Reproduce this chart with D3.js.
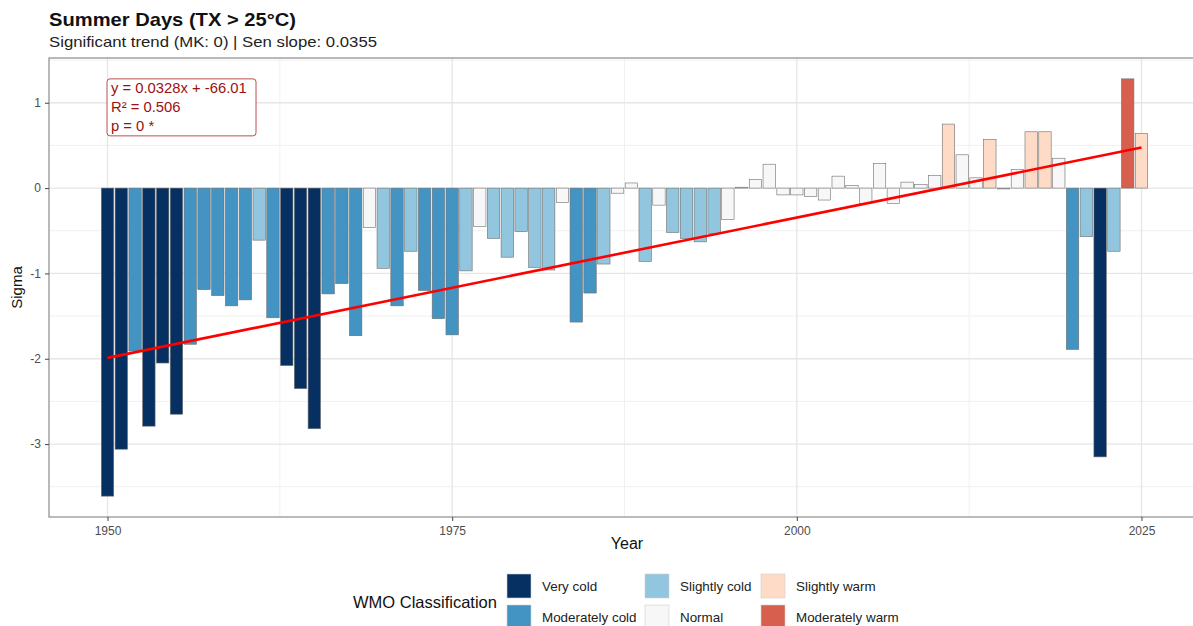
<!DOCTYPE html>
<html>
<head>
<meta charset="utf-8">
<script src="https://cdn.jsdelivr.net/npm/d3@7"></script>
<style>
  body { margin: 0; background: #fff; }
  svg text { font-family: "Liberation Sans", Arial, sans-serif; }
</style>
</head>
<body>
<div id="chart"></div>
<script>
// data
const years = d3.range(1950, 2026);
const sigma = [
  -3.61, -3.06, -1.91, -2.79, -2.05, -2.65, -1.83, -1.19, -1.26, -1.38,
  -1.31, -0.61, -1.52, -2.08, -2.35, -2.82, -1.24, -1.12, -1.73, -0.46,
  -0.94, -1.38, -0.74, -1.20, -1.53, -1.72, -0.97, -0.45, -0.59, -0.81,
  -0.51, -0.93, -0.96, -0.17, -1.57, -1.23, -0.89, -0.06, 0.06, -0.86,
  -0.20, -0.52, -0.59, -0.63, -0.53, -0.37, 0.01, 0.10, 0.28, -0.08,
  -0.08, -0.10, -0.14, 0.14, 0.03, -0.18, 0.29, -0.18, 0.07, 0.04,
  0.15, 0.75, 0.39, 0.12, 0.57, -0.01, 0.22, 0.66, 0.66, 0.35,
  -1.89, -0.57, -3.15, -0.74, 1.28, 0.64
];
const classNames = ["Very cold", "Moderately cold", "Slightly cold", "Normal",
                    "Slightly warm", "Moderately warm", "Very warm"];
const classBreaks = [-2, -1, -0.5, 0.5, 1, 2];
const classColors = ["#053061", "#4393c3", "#92c5de", "#f7f7f7", "#fddbc7", "#d6604d", "#b2182b"];
const legendNames = ["Very cold", "Moderately cold", "Slightly cold", "Normal", "Slightly warm", "Moderately warm"];

const xTicks = [1950, 1975, 2000, 2025];
const yTicks = [-3, -2, -1, 0, 1];
const trendSlope = 0.03288, trendIntercept = -66.106;
const statLines = ["y = 0.0328x + -66.01", "R\u00b2 = 0.506", "p = 0 *"];

const W = 1193, H = 626;
const pLeft = 49, pRight = 1200, pTop = 58, pBottom = 517;

const svg = d3.select('#chart').append('svg')
    .attr('width', W)
    .attr('height', H);

svg.append('rect').attr('width', W).attr('height', H).attr('fill', 'white');

const data = years.map((yr, i) => ({ year: yr, v: sigma[i] }));
const cls = d3.scaleThreshold().domain(classBreaks).range(classNames);
const color = d3.scaleOrdinal().domain(classNames).range(classColors);

// scales with ggplot-like 5% expansion
const xr = [1950 - 0.45, 2025 + 0.45];
const xpad = (xr[1] - xr[0]) * 0.05;
const x = d3.scaleLinear().domain([xr[0] - xpad, xr[1] + xpad]).range([pLeft, pRight]);
const ext = d3.extent(sigma);
const ypad = (ext[1] - ext[0]) * 0.05;
const y = d3.scaleLinear().domain([ext[0] - ypad, ext[1] + ypad]).range([pBottom, pTop]);

// grid
const grid = svg.append('g');
const yMinor = d3.range(-3.5, 1.6, 1);
grid.selectAll('.ymin').data(yMinor).enter().append('line')
    .attr('x1', pLeft).attr('x2', pRight)
    .attr('y1', d => y(d)).attr('y2', d => y(d))
    .style('stroke', '#f0f0f0').style('stroke-width', 1);
grid.selectAll('.xmin').data([1962.5, 1987.5, 2012.5]).enter().append('line')
    .attr('y1', pTop).attr('y2', pBottom)
    .attr('x1', d => x(d)).attr('x2', d => x(d))
    .style('stroke', '#f0f0f0').style('stroke-width', 1);
grid.selectAll('.ymaj').data(yTicks).enter().append('line')
    .attr('x1', pLeft).attr('x2', pRight)
    .attr('y1', d => y(d)).attr('y2', d => y(d))
    .style('stroke', '#e6e6e6').style('stroke-width', 1.3);
grid.selectAll('.xmaj').data(xTicks).enter().append('line')
    .attr('y1', pTop).attr('y2', pBottom)
    .attr('x1', d => x(d)).attr('x2', d => x(d))
    .style('stroke', '#e6e6e6').style('stroke-width', 1.3);

// bars
const bw = x(0.9) - x(0);
svg.append('g').selectAll('rect').data(data).enter().append('rect')
    .attr('x', d => x(d.year) - bw / 2)
    .attr('width', bw)
    .attr('y', d => y(Math.max(0, d.v)))
    .attr('height', d => Math.abs(y(d.v) - y(0)))
    .attr('fill', d => color(cls(d.v)))
    .style('stroke', '#6e6e6e')
    .style('stroke-width', 0.6);

// trend line
svg.append('line')
    .attr('x1', x(1950)).attr('y1', y(trendSlope * 1950 + trendIntercept))
    .attr('x2', x(2025)).attr('y2', y(trendSlope * 2025 + trendIntercept))
    .style('stroke', '#ff0000').style('stroke-width', 2.6);

// stats label
const lab = svg.append('g').attr('transform', `translate(${x(1950) - 0.5},${y(1.28)})`);
lab.append('rect').attr('width', 149).attr('height', 57).attr('rx', 3)
    .attr('fill', 'white').style('stroke', '#b23a3a').style('stroke-width', 0.9);
lab.selectAll('text').data(statLines).enter().append('text')
    .attr('x', 4).attr('y', (d, i) => 14.5 + i * 19)
    .attr('fill', '#9b1111').style('font-size', '14.8px')
    .text(d => d);

// panel border
svg.append('rect').attr('x', pLeft).attr('y', pTop)
    .attr('width', pRight - pLeft).attr('height', pBottom - pTop)
    .attr('fill', 'none').style('stroke', '#8c8c8c').style('stroke-width', 1.2);

// axes
const xAxis = svg.append('g').attr('transform', `translate(0,${pBottom})`)
    .call(d3.axisBottom(x).tickValues(xTicks).tickFormat(d3.format('d')).tickSize(4).tickPadding(5));
const yAxis = svg.append('g').attr('transform', `translate(${pLeft},0)`)
    .call(d3.axisLeft(y).tickValues(yTicks).tickSize(4).tickPadding(4).tickFormat(d => d < 0 ? '-' + Math.abs(d) : d));
[xAxis, yAxis].forEach(a => {
  a.select('.domain').remove();
  a.selectAll('line').style('stroke', '#444');
  a.selectAll('text').style('fill', '#4d4d4d').style('font-size', '12px')
      .style('font-family', '"Liberation Sans", Arial, sans-serif');
});

svg.append('text').attr('x', 627).attr('y', 549)
    .attr('text-anchor', 'middle').style('font-size', '16px').attr('fill', '#111').text('Year');
svg.append('text').attr('transform', `translate(22,${(pTop + pBottom) / 2}) rotate(-90)`)
    .attr('text-anchor', 'middle').style('font-size', '15px').attr('fill', '#111').text('Sigma');

// title
svg.append('text').attr('x', 49).attr('y', 26)
    .style('font-size', '19px').style('font-weight', 'bold').attr('fill', '#111')
    .attr('textLength', 247).attr('lengthAdjust', 'spacingAndGlyphs')
    .text('Summer Days (TX > 25\u00b0C)');
svg.append('text').attr('x', 49).attr('y', 47)
    .style('font-size', '15px').attr('fill', '#222')
    .attr('textLength', 328).attr('lengthAdjust', 'spacingAndGlyphs')
    .text('Significant trend (MK: 0) | Sen slope: 0.0355');

// legend
const colX = [507, 645, 761];
const rowY = [574, 605];
const key = 24;
svg.append('text').attr('x', 353).attr('y', 608)
    .style('font-size', '16.5px').attr('fill', '#111').text('WMO Classification');
const lg = svg.append('g').selectAll('g').data(legendNames).enter().append('g')
    .attr('transform', (d, i) => `translate(${colX[Math.floor(i / 2)]},${rowY[i % 2]})`);
lg.append('rect').attr('width', key).attr('height', key)
    .attr('fill', d => color(d)).style('stroke', '#d0d0d0').style('stroke-width', 0.6);
lg.append('text').attr('x', key + 11).attr('y', key / 2 + 5)
    .style('font-size', '13.4px').attr('fill', '#222').text(d => d);
</script>
</body>
</html>
